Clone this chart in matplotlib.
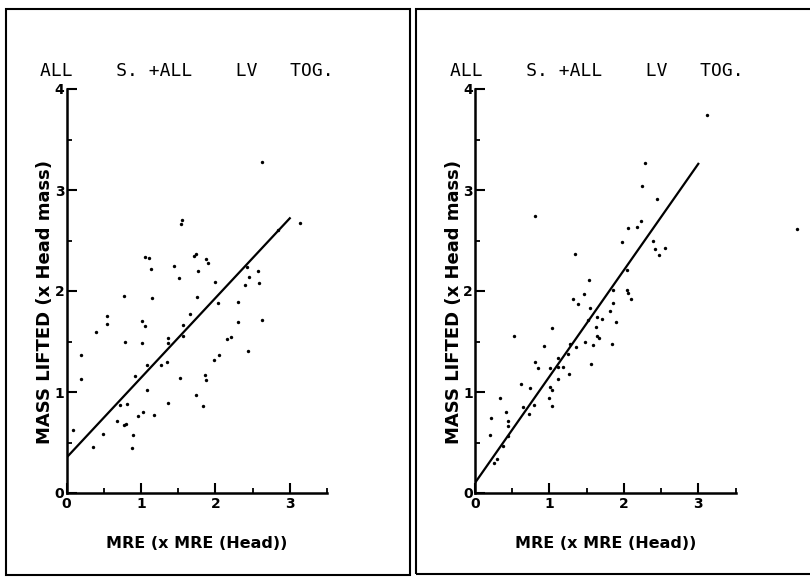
import matplotlib
matplotlib.use('Agg')
import matplotlib.pyplot as plt
from matplotlib.patches import Rectangle
from matplotlib.ticker import MultipleLocator
import numpy as np

title_text = 'ALL    S. +ALL    LV   TOG.'
x_label = 'MRE (x MRE (Head))'
y_label = 'MASS LIFTED (x Head mass)'
x_ticks = [0, 1, 2, 3]
y_ticks = [0, 1, 2, 3, 4]

# left panel: all S. + all LV together
left_x = [2.62, 3.14, 1.55, 1.54, 1.06, 1.11, 1.13, 1.45, 1.51, 1.71, 1.74, 1.88, 1.90,
          1.77, 1.99, 0.77, 1.15, 1.76, 2.04, 2.43, 2.57, 2.45, 2.40, 2.58, 2.31, 2.62,
          2.31, 0.54, 0.54, 0.40, 1.02, 1.06, 1.66, 1.57, 1.56, 1.36, 1.37, 0.78, 1.01,
          2.16, 2.21, 2.84, 2.05, 2.44, 0.20, 0.20, 1.08, 1.27, 1.35, 0.92, 1.52, 1.08,
          1.74, 1.86, 1.88, 1.83, 1.36, 0.72, 0.81, 1.03, 0.96, 1.18, 0.68, 0.77, 0.80,
          0.09, 0.49, 0.89, 0.36, 0.88, 1.98]
left_y = [3.28, 2.67, 2.70, 2.66, 2.34, 2.33, 2.22, 2.25, 2.13, 2.35, 2.37, 2.32, 2.28,
          2.20, 2.09, 1.95, 1.93, 1.94, 1.88, 2.24, 2.20, 2.14, 2.06, 2.08, 1.89, 1.71,
          1.69, 1.75, 1.67, 1.59, 1.70, 1.65, 1.77, 1.66, 1.55, 1.53, 1.49, 1.50, 1.49,
          1.52, 1.54, 2.60, 1.37, 1.41, 1.37, 1.13, 1.27, 1.27, 1.30, 1.16, 1.14, 1.02,
          0.97, 1.17, 1.12, 0.86, 0.89, 0.87, 0.88, 0.80, 0.76, 0.77, 0.71, 0.67, 0.68,
          0.62, 0.58, 0.57, 0.46, 0.45, 1.32]
left_fit = (0.35, 0.79)   # intercept, slope

# right panel
right_x = [3.12, 2.28, 2.25, 2.44, 0.81, 2.23, 2.17, 2.05, 1.98, 2.39, 2.42, 2.55, 2.47,
           1.34, 2.04, 1.53, 1.47, 1.31, 1.38, 1.85, 2.04, 2.06, 2.10, 1.85, 1.54, 1.82,
           1.64, 1.70, 1.52, 1.63, 1.89, 1.04, 0.53, 1.48, 1.64, 1.67, 1.84, 1.27, 1.59,
           1.36, 0.93, 0.81, 0.85, 1.01, 1.12, 1.12, 1.18, 1.25, 1.26, 1.56, 1.11, 0.62,
           0.74, 1.01, 1.03, 1.00, 1.04, 0.34, 0.65, 0.79, 0.73, 0.42, 0.44, 0.45, 0.22,
           0.20, 0.44, 0.37, 0.30, 0.25, 4.32]
right_y = [3.74, 3.27, 3.04, 2.91, 2.74, 2.69, 2.63, 2.62, 2.49, 2.50, 2.42, 2.43, 2.36,
           2.37, 2.21, 2.11, 1.97, 1.92, 1.87, 2.01, 2.01, 1.98, 1.92, 1.88, 1.83, 1.80,
           1.74, 1.72, 1.71, 1.64, 1.69, 1.63, 1.55, 1.50, 1.55, 1.53, 1.48, 1.48, 1.47,
           1.45, 1.46, 1.30, 1.24, 1.24, 1.34, 1.25, 1.25, 1.38, 1.18, 1.28, 1.13, 1.08,
           1.04, 1.05, 1.02, 0.94, 0.86, 0.94, 0.85, 0.87, 0.78, 0.80, 0.71, 0.66, 0.74,
           0.57, 0.56, 0.47, 0.34, 0.30, 2.61]
right_fit = (0.10, 1.053)
fit_range = [0, 3]

W, H = 810, 577
fig = plt.figure(figsize=(W / 100, H / 100), dpi=100)

# scanned page frames around each panel
fig.add_artist(Rectangle((6 / W, 1 - 575 / H), 404 / W, 566 / H, transform=fig.transFigure,
                         fill=False, ec='black', lw=1.5))
fig.add_artist(Rectangle((416 / W, 1 - 574 / H), 420 / W, 565 / H, transform=fig.transFigure,
                         fill=False, ec='black', lw=1.5))


def panel(x0, xs, ys, fit, title_x):
    ax = fig.add_axes([x0 / W, (H - 493) / H, 260.5 / W, 404 / H])
    ax.scatter(xs, ys, s=6, c='black', linewidths=0, clip_on=False)
    fx = np.array(fit_range, dtype=float)
    ax.plot(fx, fit[0] + fit[1] * fx, color='black', lw=1.6)
    ax.set_xlim(0, 3.5)
    ax.set_ylim(0, 4)
    ax.spines['top'].set_visible(False)
    ax.spines['right'].set_visible(False)
    ax.spines['left'].set_linewidth(1.8)
    ax.spines['bottom'].set_linewidth(1.8)
    ax.set_xticks(x_ticks)
    ax.set_yticks(y_ticks)
    ax.xaxis.set_minor_locator(MultipleLocator(0.5))
    ax.yaxis.set_minor_locator(MultipleLocator(0.5))
    ax.tick_params(which='major', direction='in', length=7, width=1.5, labelsize=10)
    ax.tick_params(which='minor', direction='in', length=3.5, width=1.3)
    ax.tick_params(axis='x', pad=3)
    ax.tick_params(axis='y', pad=1.5)
    for lab in ax.get_xticklabels() + ax.get_yticklabels():
        lab.set_fontweight('bold')
    ax.set_xlabel(x_label, fontsize=11.5, fontweight='bold', va='center')
    ax.xaxis.set_label_coords(0.5, (493 - 543) / 404)
    ax.set_ylabel(y_label, fontsize=13, fontweight='bold', va='center')
    ax.yaxis.set_label_coords((45 - 66.5) / 260.5, (493 - 302) / 404)
    fig.text(title_x / W, 1 - 71 / H, title_text, family='DejaVu Sans Mono',
             fontsize=13, ha='left', va='center')
    return ax


panel(66.5, left_x, left_y, left_fit, 40)
panel(475, right_x, right_y, right_fit, 450)

fig.savefig('out.png', dpi=100)
